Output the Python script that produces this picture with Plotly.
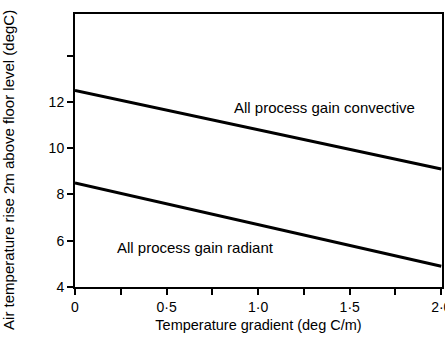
import plotly.graph_objects as go

gradient = [0.0, 2.0]
convective = [12.5, 9.1]
radiant = [8.5, 4.9]

x_tickvals = [0, 0.25, 0.5, 0.75, 1.0, 1.25, 1.5, 1.75, 2.0]
x_ticktext = ["0", "", "0·5", "", "1·0", "", "1·5", "", "2·0"]
y_tickvals = [4, 6, 8, 10, 12, 14]
y_ticktext = ["4", "6", "8", "10", "12", ""]

FONT = "Liberation Sans, Arial, sans-serif"

fig = go.Figure()
fig.add_trace(go.Scatter(x=gradient, y=convective, mode="lines",
                         line=dict(color="black", width=3), name="All process gain convective",
                         showlegend=False))
fig.add_trace(go.Scatter(x=gradient, y=radiant, mode="lines",
                         line=dict(color="black", width=3), name="All process gain radiant",
                         showlegend=False))

fig.add_annotation(x=0.856, y=11.74, text="All process gain convective", showarrow=False,
                   xanchor="left", yanchor="middle", font=dict(size=15, color="black", family=FONT))
fig.add_annotation(x=0.218, y=5.70, text="All process gain radiant", showarrow=False,
                   xanchor="left", yanchor="middle", font=dict(size=15, color="black", family=FONT))
fig.add_annotation(xref="paper", yref="paper", x=-0.18, y=0.4286,
                   text="Air temperature rise 2m above floor level (degC)", showarrow=False,
                   textangle=-90, xanchor="center", yanchor="middle",
                   font=dict(size=15, color="black", family=FONT))

fig.update_xaxes(range=[0, 2.004], tickvals=x_tickvals, ticktext=x_ticktext,
                 ticks="outside", ticklen=6, tickwidth=1.5, tickcolor="black",
                 showline=True, linecolor="black", linewidth=2, mirror=True,
                 showgrid=False, zeroline=False, ticklabeloverflow="allow",
                 automargin=False,
                 tickfont=dict(size=14, color="black", family=FONT),
                 title=dict(text="Temperature gradient (deg C/m)", standoff=6,
                            font=dict(size=14.5, color="black", family=FONT)))
fig.update_yaxes(range=[4, 15.8], tickvals=y_tickvals, ticktext=y_ticktext,
                 ticks="outside", ticklen=6, tickwidth=1.5, tickcolor="black",
                 showline=True, linecolor="black", linewidth=2, mirror=True,
                 showgrid=False, zeroline=False, automargin=False,
                 tickfont=dict(size=14, color="black", family=FONT))

fig.update_layout(width=445, height=341, margin=dict(l=75, r=3, t=14, b=54),
                  plot_bgcolor="white", paper_bgcolor="white",
                  font=dict(family=FONT, color="black"))

fig.write_html("out.html")
